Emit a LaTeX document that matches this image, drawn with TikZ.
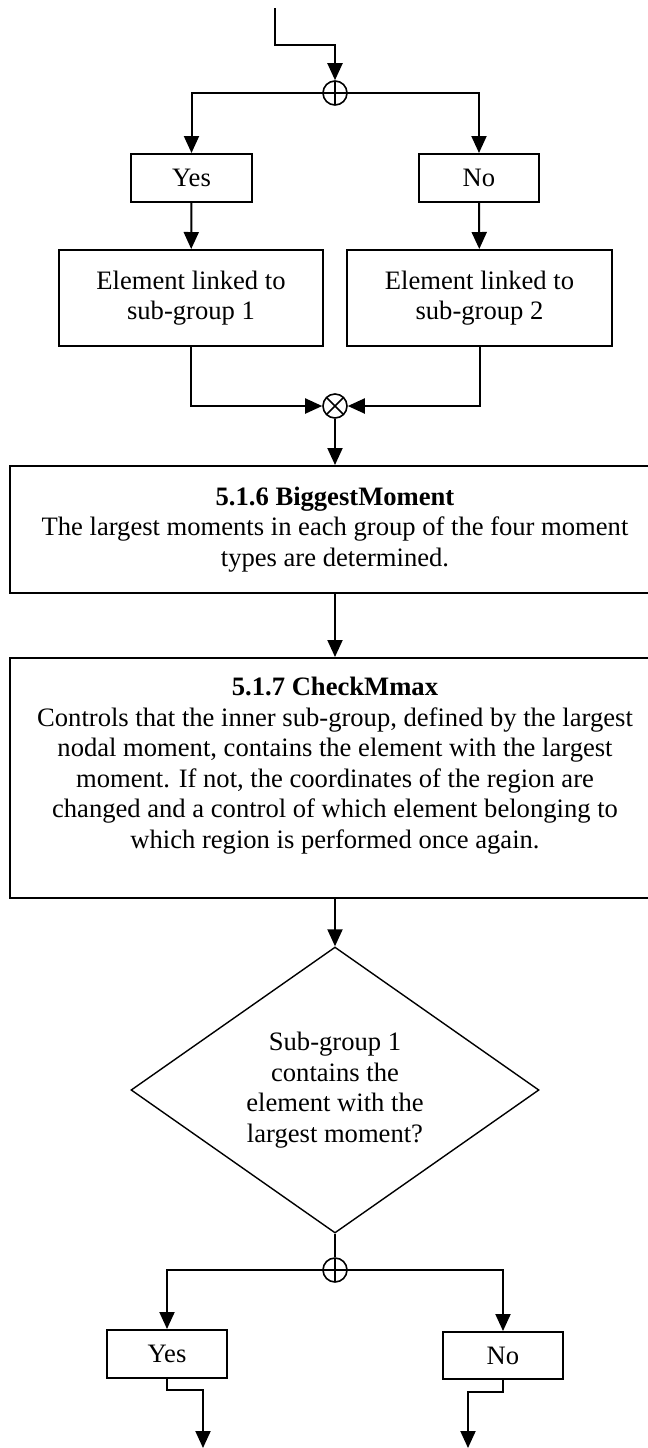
\documentclass[tikz,border=0pt]{standalone}
\usepackage{fontspec}
\setmainfont{Liberation Serif}
\usetikzlibrary{arrows.meta,shapes.geometric}

\begin{document}
\begin{tikzpicture}[x=0.5pt,y=-0.5pt,
  font=\fontsize{13.3}{15.3}\selectfont,
  flow/.style={-{Triangle[length=8.5pt,width=7.5pt]},line width=1pt},
  link/.style={line width=1pt},
  box/.style={draw,line width=1pt,align=center,inner sep=0pt},
  orjoin/.style={circle,draw,line width=0.8pt,minimum size=12pt,inner sep=0pt,
    path picture={\draw[line width=0.8pt] (path picture bounding box.north) -- (path picture bounding box.south);}},
  andjoin/.style={circle,draw,line width=0.8pt,minimum size=12pt,inner sep=0pt,
    path picture={\draw[line width=0.8pt] (path picture bounding box.north west) -- (path picture bounding box.south east)
      (path picture bounding box.north east) -- (path picture bounding box.south west);}},
  decision/.style={diamond,draw,line width=0.7pt,aspect=1.4,minimum width=204pt,minimum height=143pt,
    inner sep=0pt,align=center}]

\useasboundingbox (0,0) rectangle (648,1448);

% first split
\coordinate (in) at (275,8);
\node[orjoin] (fork1) at (335,93) {};

\node[box,minimum width=60.5pt,minimum height=24pt] (yes1) at (191.5,178) {Yes};
\node[box,minimum width=60pt,minimum height=24pt] (no1) at (479,178) {No};

\node[box,minimum width=132pt,minimum height=48pt] (elem1) at (191,298) {Element linked to\\sub-group 1};
\node[box,minimum width=132.5pt,minimum height=48pt] (elem2) at (479.5,298) {Element linked to\\sub-group 2};

\node[andjoin] (merge) at (335,406) {};

\draw[flow] (in) -- ++(0,37) -| (fork1);
\draw[flow] (fork1.center) -| (yes1);
\draw[flow] (fork1.center) -| (no1);
\draw[flow] (yes1) -- (elem1);
\draw[flow] (no1) -- (elem2);
\draw[flow] (elem1) |- (merge);
\draw[flow] (elem2) |- (merge);

% the two steps
\node[box,minimum width=325pt,minimum height=63.5pt] (biggest) at (335,529.5)
  {\textbf{5.1.6 BiggestMoment}\\The largest moments in each group of the four moment\\types are determined.};

\node[box,minimum width=325pt,minimum height=120pt] (check) at (335,778)
  {\textbf{5.1.7 CheckMmax}\\Controls that the inner sub-group, defined by the largest\\nodal moment, contains the element with the largest\\moment. If not, the coordinates of the region are\\changed and a control of which element belonging to\\which region is performed once again.\\~};

\draw[flow] (merge) -- (biggest);
\draw[flow] (biggest) -- (check);

% question and second split
\node[decision] (decide) at (335,1090) {Sub-group 1\\contains the\\element with the\\largest moment?};
\node[orjoin] (fork2) at (335,1270) {};

\node[box,minimum width=60pt,minimum height=24pt] (yes2) at (167,1354) {Yes};
\node[box,minimum width=60pt,minimum height=23.5pt] (no2) at (503,1355.5) {No};

\coordinate (out1) at (203,1448);
\coordinate (out2) at (468,1448);

\draw[flow] (check) -- (decide);
\draw[link] (decide) -- (fork2);
\draw[flow] (fork2.center) -| (yes2);
\draw[flow] (fork2.center) -| (no2);
\draw[flow] (yes2) -- ++(0,36) -| (out1);
\draw[flow] (no2) -- ++(0,36) -| (out2);

\end{tikzpicture}
\end{document}
